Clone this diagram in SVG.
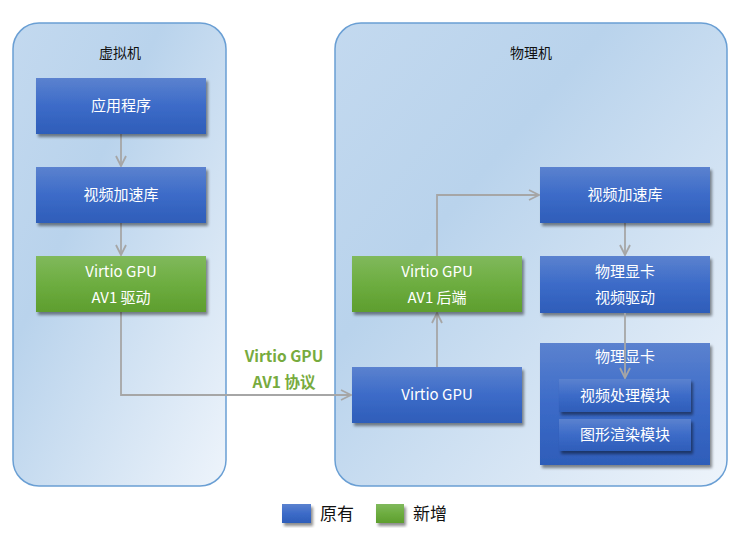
<svg xmlns="http://www.w3.org/2000/svg" width="755" height="534" viewBox="0 0 755 534">
<defs>
<linearGradient id="gc" x1="0" y1="0" x2="1" y2="1">
<stop offset="0" stop-color="#c3d9ef"/>
<stop offset="0.35" stop-color="#b9d3ec"/>
<stop offset="1" stop-color="#eef4fb"/>
</linearGradient>
<linearGradient id="gb" x1="0" y1="0" x2="0" y2="1">
<stop offset="0" stop-color="#5b82cf"/>
<stop offset="0.5" stop-color="#3c6bc8"/>
<stop offset="1" stop-color="#2e5db9"/>
</linearGradient>
<linearGradient id="gg" x1="0" y1="0" x2="0" y2="1">
<stop offset="0" stop-color="#80b95c"/>
<stop offset="0.5" stop-color="#6dad40"/>
<stop offset="1" stop-color="#5e9e2e"/>
</linearGradient>
<filter id="sh" x="-10%" y="-10%" width="125%" height="135%">
<feGaussianBlur in="SourceAlpha" stdDeviation="1.5"/>
<feOffset dx="2" dy="3" result="o"/>
<feComponentTransfer><feFuncA type="linear" slope="0.45"/></feComponentTransfer>
<feMerge><feMergeNode/><feMergeNode in="SourceGraphic"/></feMerge>
</filter>
<marker id="ar" viewBox="0 0 12 12" refX="11" refY="6" markerWidth="12" markerHeight="12" markerUnits="userSpaceOnUse" orient="auto">
<path d="M1,1 L11,6 L1,11" fill="none" stroke="#a6a6a6" stroke-width="1.8"/>
</marker>
</defs>
<style>
.cont{fill:url(#gc);stroke:#6a9fd4;stroke-width:1.5}
.b{fill:url(#gb);filter:url(#sh)}
.g{fill:url(#gg);filter:url(#sh)}
.t{font-family:"Noto Sans CJK SC","Open Sans",sans-serif;font-size:15px;fill:#ffffff;text-anchor:middle}
.h{font-family:"Noto Sans CJK SC","Open Sans",sans-serif;font-size:14px;fill:#111111;text-anchor:middle}
.lbl{font-family:"Noto Sans CJK SC","Open Sans",sans-serif;font-size:15.5px;font-weight:bold;fill:#77ab3e;text-anchor:middle}
.lg{font-family:"Noto Sans CJK SC","Open Sans",sans-serif;font-size:17px;fill:#111111}
.c{fill:none;stroke:#a6a6a6;stroke-width:1.8;marker-end:url(#ar)}
</style>
<rect width="755" height="534" fill="#ffffff"/>
<g id="vm">
<rect class="cont" x="13" y="23" width="213" height="463" rx="26"/>
<text class="h" x="120" y="58">虚拟机</text>
</g>
<g id="host">
<rect class="cont" x="335" y="23" width="392" height="463" rx="26"/>
<text class="h" x="531" y="58">物理机</text>
</g>
<g id="connectors">
<path class="c" d="M121,134 V166"/>
<path class="c" d="M121,223 V255"/>
<path class="c" d="M121,312 V395 H351"/>
<path class="c" d="M437,367 V313"/>
<path class="c" d="M437,256 V195 H539"/>
<path class="c" d="M625,223 V255"/>
</g>
<g id="app">
<rect class="b" x="36" y="78" width="170" height="56"/>
<text class="t" x="121" y="111">应用程序</text>
</g>
<g id="vlib">
<rect class="b" x="36" y="167" width="170" height="56"/>
<text class="t" x="121" y="200">视频加速库</text>
</g>
<g id="vdrv">
<rect class="g" x="36" y="256" width="170" height="56"/>
<text class="t" x="121" y="277">Virtio GPU</text>
<text class="t" x="121" y="303">AV1 驱动</text>
</g>
<g id="proto">
<text class="lbl" x="284" y="362">Virtio GPU</text>
<text class="lbl" x="284" y="388">AV1  协议</text>
</g>
<g id="hgpu">
<rect class="b" x="352" y="367" width="170" height="56"/>
<text class="t" x="437" y="400">Virtio GPU</text>
</g>
<g id="backend">
<rect class="g" x="352" y="256" width="170" height="56"/>
<text class="t" x="437" y="277">Virtio GPU</text>
<text class="t" x="437" y="303">AV1 后端</text>
</g>
<g id="hlib">
<rect class="b" x="540" y="167" width="170" height="56"/>
<text class="t" x="625" y="200">视频加速库</text>
</g>
<g id="hdrv">
<rect class="b" x="540" y="256" width="170" height="57"/>
<text class="t" x="625" y="277">物理显卡</text>
<text class="t" x="625" y="303">视频驱动</text>
</g>
<g id="card">
<rect class="b" x="540" y="343" width="170" height="122"/>
<text class="t" x="625" y="362">物理显卡</text>
</g>
<g id="vproc">
<rect class="b" x="559" y="379" width="132" height="33"/>
<text class="t" x="625" y="401">视频处理模块</text>
</g>
<g id="gfx">
<rect class="b" x="559" y="419" width="132" height="32"/>
<text class="t" x="625" y="440">图形渲染模块</text>
</g>
<g id="conn2">
<path class="c" d="M625,313 V378"/>
</g>
<g id="legend">
<rect class="b" x="282" y="504" width="29" height="19"/>
<text class="lg" x="320" y="520">原有</text>
<rect class="g" x="376" y="504" width="28" height="19"/>
<text class="lg" x="413" y="520">新增</text>
</g>
</svg>
